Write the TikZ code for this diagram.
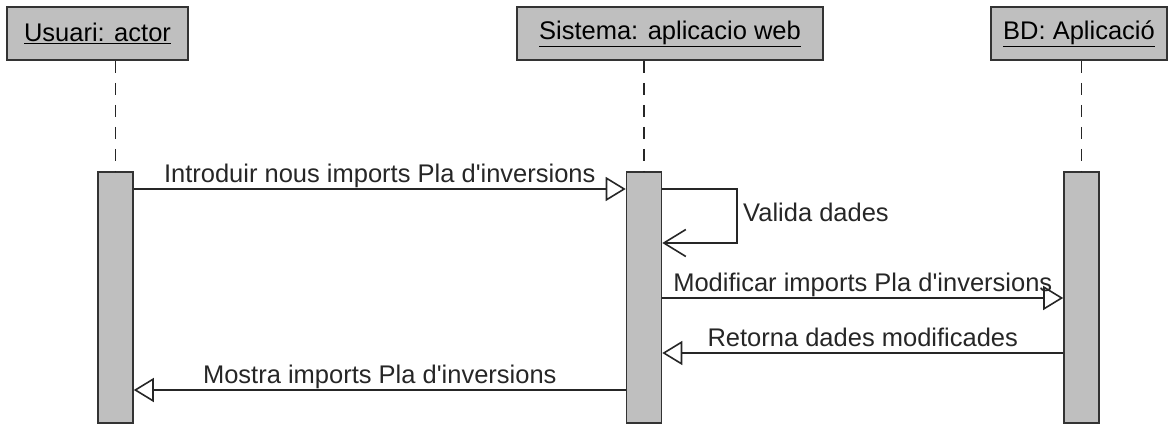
\documentclass[tikz,border=0pt]{standalone}
\usepackage{fontspec}
\setmainfont{Liberation Sans}
\usetikzlibrary{arrows.meta,positioning,calc}
\tikzset{
  head/.style = {draw=black!80, line width=1.6pt, fill=black!25,
                 minimum height=53pt, inner sep=0pt,
                 font=\fontsize{25.5}{30}\selectfont},
  bar/.style  = {draw=black!80, line width=1.6pt, fill=black!25,
                 minimum width=35pt, minimum height=251pt, inner sep=0pt},
  life/.style = {draw=black!85, line width=1.6pt, dash pattern=on 12pt off 10pt},
  msg/.style  = {draw=black!85, line width=1.6pt,
                 -{Triangle[open, length=20pt, width=24pt, line width=1.6pt]}},
  self/.style = {draw=black!85, line width=1.6pt,
                 -{Straight Barb[length=22pt, width=27pt, line width=1.6pt]}},
  lbl/.style  = {font=\fontsize{25.5}{30}\selectfont, text=black!85,
                 anchor=base, yshift=7pt, inner sep=0pt}
}
\newcommand{\q}{\textquotesingle}

\begin{document}
\begin{tikzpicture}[x=1pt, y=-1pt]
  \useasboundingbox (0,0) rectangle (1169,425);
  % lifeline heads
  \node[head, minimum width=181pt] (hUsr) at (97.5,33.5) {\underline{Usuari: actor}};
  \node[head, minimum width=306pt] (hSys) at (670,33.5) {\underline{Sistema: aplicacio web}};
  \node[head, minimum width=176pt] (hBD)  at (1079,33.5) {\underline{BD: Aplicació}};
  % activation bars
  \node[bar] (bUsr) at (115.5,297.5) {};
  \node[bar] (bSys) at (644,297.5) {};
  \node[bar] (bBD)  at (1081.5,297.5) {};
  \foreach \b/\h in {bUsr/hUsr,bSys/hSys,bBD/hBD}
    {\draw[life] (\b.north |- \h.south) -- (\b.north);}
  % messages
  \draw[msg] (bUsr.east |- 0,189) -- node[lbl] {Introduir nous imports Pla d\q inversions} (bSys.west |- 0,189);
  \coordinate (selfR) at (737,216);
  \draw[self] (bSys.east |- 0,189) -| (selfR) |- (bSys.east |- 0,243);
  \node[lbl, anchor=base west, yshift=0pt] (valida) at (743,228) {Valida dades};
  \draw[msg] (bSys.east |- 0,298) -- node[lbl] {Modificar imports Pla d\q inversions} (bBD.west |- 0,298);
  \draw[msg] (bBD.west |- 0,353) -- node[lbl] {Retorna dades modificades} (bSys.east |- 0,353);
  \draw[msg] (bSys.west |- 0,390) -- node[lbl] {Mostra imports Pla d\q inversions} (bUsr.east |- 0,390);
\end{tikzpicture}
\end{document}
